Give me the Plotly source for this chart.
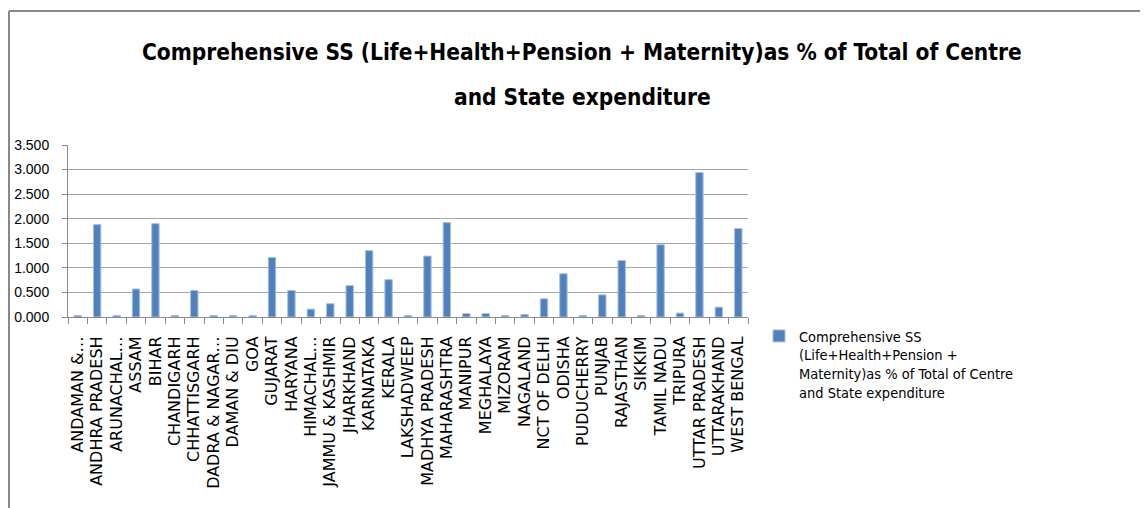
import plotly.graph_objects as go

states = [
    "ANDAMAN &…", "ANDHRA PRADESH", "ARUNACHAL…", "ASSAM", "BIHAR",
    "CHANDIGARH", "CHHATTISGARH", "DADRA & NAGAR…", "DAMAN & DIU", "GOA",
    "GUJARAT", "HARYANA", "HIMACHAL…", "JAMMU & KASHMIR", "JHARKHAND",
    "KARNATAKA", "KERALA", "LAKSHADWEEP", "MADHYA PRADESH", "MAHARASHTRA",
    "MANIPUR", "MEGHALAYA", "MIZORAM", "NAGALAND", "NCT OF DELHI",
    "ODISHA", "PUDUCHERRY", "PUNJAB", "RAJASTHAN", "SIKKIM",
    "TAMIL NADU", "TRIPURA", "UTTAR PRADESH", "UTTARAKHAND", "WEST BENGAL",
]
ss_share = [
    0.03, 1.88, 0.03, 0.57, 1.90,
    0.03, 0.54, 0.03, 0.03, 0.03,
    1.21, 0.54, 0.16, 0.27, 0.64,
    1.35, 0.76, 0.03, 1.24, 1.92,
    0.07, 0.07, 0.03, 0.05, 0.37,
    0.88, 0.03, 0.45, 1.15, 0.03,
    1.47, 0.08, 2.94, 0.20, 1.80,
]
y_ticks = [0, 0.5, 1.0, 1.5, 2.0, 2.5, 3.0, 3.5]

series_name = "Comprehensive SS<br>(Life+Health+Pension +<br>Maternity)as % of Total of Centre<br>and State expenditure"
title_lines = [
    "Comprehensive SS (Life+Health+Pension + Maternity)as % of Total of Centre",
    "and State expenditure",
]

condensed = "DejaVu Sans Condensed, Liberation Sans Narrow, Roboto, sans-serif"

# the page body has an 8px margin, so the figure is drawn 8px in
OFF = 8
W, H = 1148 - OFF, 508 - OFF
L, R, T, B = 68 - OFF, 400, 145 - OFF, 191
pw, ph = W - L - R, H - T - B

def px(x):  # page pixel -> paper x
    return (x - OFF - L) / pw

def py(y):  # page pixel -> paper y
    return (H - B - (y - OFF)) / ph

fig = go.Figure()
fig.add_trace(go.Bar(
    x=states, y=ss_share, name=series_name,
    marker_color="#4F81BD", marker_line=dict(color="#A7C0DE", width=1),
    showlegend=True,
))

fig.update_layout(
    width=W, height=H,
    margin=dict(l=L, r=R, t=T, b=B, autoexpand=False),
    paper_bgcolor="white", plot_bgcolor="white",
    bargap=0.62,
    font=dict(family=condensed, color="black"),
    showlegend=True,
    legend=dict(
        x=px(759), y=py(320), xanchor="left", yanchor="top",
        font=dict(family=condensed, size=14.5, color="black"),
        valign="top", itemwidth=30, tracegroupgap=0,
    ),
    xaxis=dict(
        type="category", tickangle=-90,
        tickfont=dict(family="DejaVu Sans", size=16, color="black"),
        showline=True, linecolor="#8C8C8C", linewidth=1,
        ticks="outside", ticklen=6, tickcolor="#8C8C8C", tickson="boundaries",
        showgrid=False, ticklabelstandoff=12,
    ),
    yaxis=dict(
        range=[0, 3.5], tickvals=y_ticks, tickformat=".3f",
        tickfont=dict(family="Liberation Sans, Arial, sans-serif", size=14, color="black"),
        showline=True, linecolor="#8C8C8C", linewidth=1,
        ticks="outside", ticklen=5, tickcolor="#8C8C8C",
        showgrid=True, gridcolor="#A6A6A6", gridwidth=1,
        zeroline=False, ticklabelstandoff=10,
    ),
)

# title as two centred lines
for text, yy in zip(title_lines, [52, 97]):
    fig.add_annotation(
        xref="paper", yref="paper", x=px(582), y=py(yy),
        xanchor="center", yanchor="middle", showarrow=False,
        text=text, font=dict(family=condensed, size=22.5, color="black", weight="bold"),
    )

# outer frame (top and left edges)
fig.add_shape(type="line", xref="paper", yref="paper",
              x0=px(9), y0=py(11), x1=px(1148), y1=py(11),
              line=dict(color="#888888", width=2))
fig.add_shape(type="line", xref="paper", yref="paper",
              x0=px(9), y0=py(11), x1=px(9), y1=py(508),
              line=dict(color="#888888", width=2))

fig.write_html("out.html")
